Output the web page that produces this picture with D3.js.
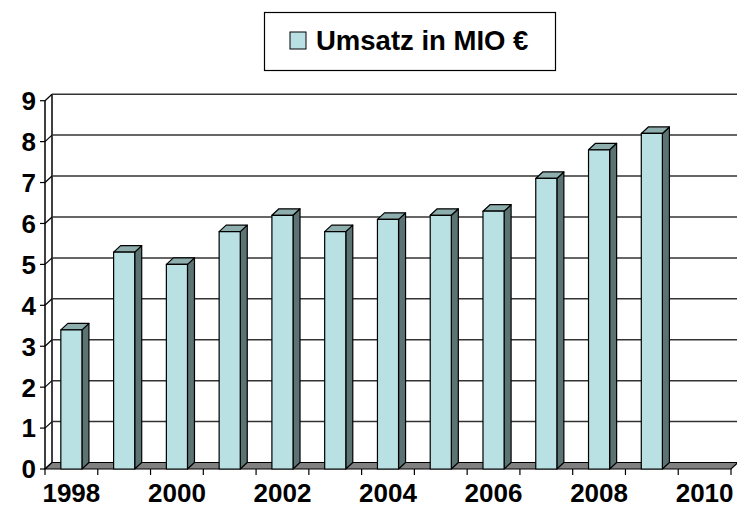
<!DOCTYPE html>
<html><head><meta charset="utf-8">
<script src="https://cdn.jsdelivr.net/npm/d3@7/dist/d3.min.js"></script>
<style>body{margin:0;background:#fff}svg{display:block}text{font-family:"Liberation Sans",Arial,sans-serif;font-weight:bold}</style>
</head><body><svg id="c" width="737" height="508"></svg>
<script>
const years = [1998,1999,2000,2001,2002,2003,2004,2005,2006,2007,2008,2009,2010];
const umsatz = [3.4,5.3,5.0,5.8,6.2,5.8,6.1,6.2,6.3,7.1,7.8,8.2,null];
const yTicks = [0,1,2,3,4,5,6,7,8,9];
const xLabels = [1998,2000,2002,2004,2006,2008,2010];
const seriesName = "Umsatz in MIO €";

const svg = d3.select("#c");
const dx = 7, dy = -6.5;
const x0 = 45, x1 = 731;
const x = d3.scaleBand().domain(years).range([x0, x1]).paddingInner(0).paddingOuter(0);
const y = d3.scaleLinear().domain([0, 9]).range([469, 100.7]);
const barW = x.bandwidth() * 0.4;

const g = svg.append("g");
g.append("line").attr("x1", x0).attr("x2", x0).attr("y1", y(0)).attr("y2", y(9)).attr("stroke","#000").attr("stroke-width",1.5);
g.append("line").attr("x1", x0+dx).attr("x2", x0+dx).attr("y1", y(0)+dy).attr("y2", y(9)+dy).attr("stroke","#000").attr("stroke-width",1.5);
yTicks.forEach(t => {
  g.append("line").attr("x1", x0).attr("y1", y(t)).attr("x2", x0+dx).attr("y2", y(t)+dy).attr("stroke","#000").attr("stroke-width",1.2);
  g.append("line").attr("x1", x0-5).attr("y1", y(t)).attr("x2", x0).attr("y2", y(t)).attr("stroke","#000").attr("stroke-width",1.2);
  if (t > 0) g.append("line").attr("x1", x0+dx).attr("y1", y(t)+dy).attr("x2", 737).attr("y2", y(t)+dy).attr("stroke","#333").attr("stroke-width",1.5);
  g.append("text").attr("x", 36).attr("y", y(t)).attr("dy","0.36em").attr("text-anchor","end").attr("font-size", 26).text(t);
});

g.append("polygon").attr("points", [[x0,y(0)],[x1,y(0)],[x1+dx,y(0)+dy],[x0+dx,y(0)+dy]].map(p=>p.join(",")).join(" "))
 .attr("fill","#808080").attr("stroke","#000").attr("stroke-width",1.2);
years.concat([null]).forEach((yr,i) => {
  const xx = x0 + i * x.bandwidth();
  g.append("line").attr("x1", xx).attr("x2", xx).attr("y1", y(0)).attr("y2", y(0)+6).attr("stroke","#000").attr("stroke-width",1.2);
});
xLabels.forEach(l => {
  g.append("text").attr("x", x(l) + x.bandwidth()/2).attr("y", 502).attr("text-anchor","middle").attr("font-size", 26).text(l);
});

years.forEach((yr,i) => {
  const v = umsatz[i];
  if (v == null) return;
  const bx = x(yr) + (x.bandwidth() - barW)/2;
  const top = y(v), bot = y(0);
  const b = g.append("g").attr("stroke","#000").attr("stroke-width",1.2).attr("stroke-linejoin","round");
  b.append("polygon").attr("points", [[bx+barW,bot],[bx+barW+dx,bot+dy],[bx+barW+dx,top+dy],[bx+barW,top]].map(p=>p.join(",")).join(" ")).attr("fill","#5c7374");
  b.append("polygon").attr("points", [[bx,top],[bx+barW,top],[bx+barW+dx,top+dy],[bx+dx,top+dy]].map(p=>p.join(",")).join(" ")).attr("fill","#8eaeae");
  b.append("rect").attr("x", bx).attr("y", top).attr("width", barW).attr("height", bot-top).attr("fill","#b9e0e3");
});

const lg = svg.append("g");
lg.append("rect").attr("x", 264.5).attr("y", 12.5).attr("width", 291).attr("height", 58).attr("fill","#fff").attr("stroke","#000").attr("stroke-width",1.2);
lg.append("rect").attr("x", 290).attr("y", 32).attr("width", 16).attr("height", 17).attr("fill","#b9e0e3").attr("stroke","#000").attr("stroke-width",1);
lg.append("text").attr("x", 316).attr("y", 50).attr("font-size", 27.5).text(seriesName);
</script></body></html>
